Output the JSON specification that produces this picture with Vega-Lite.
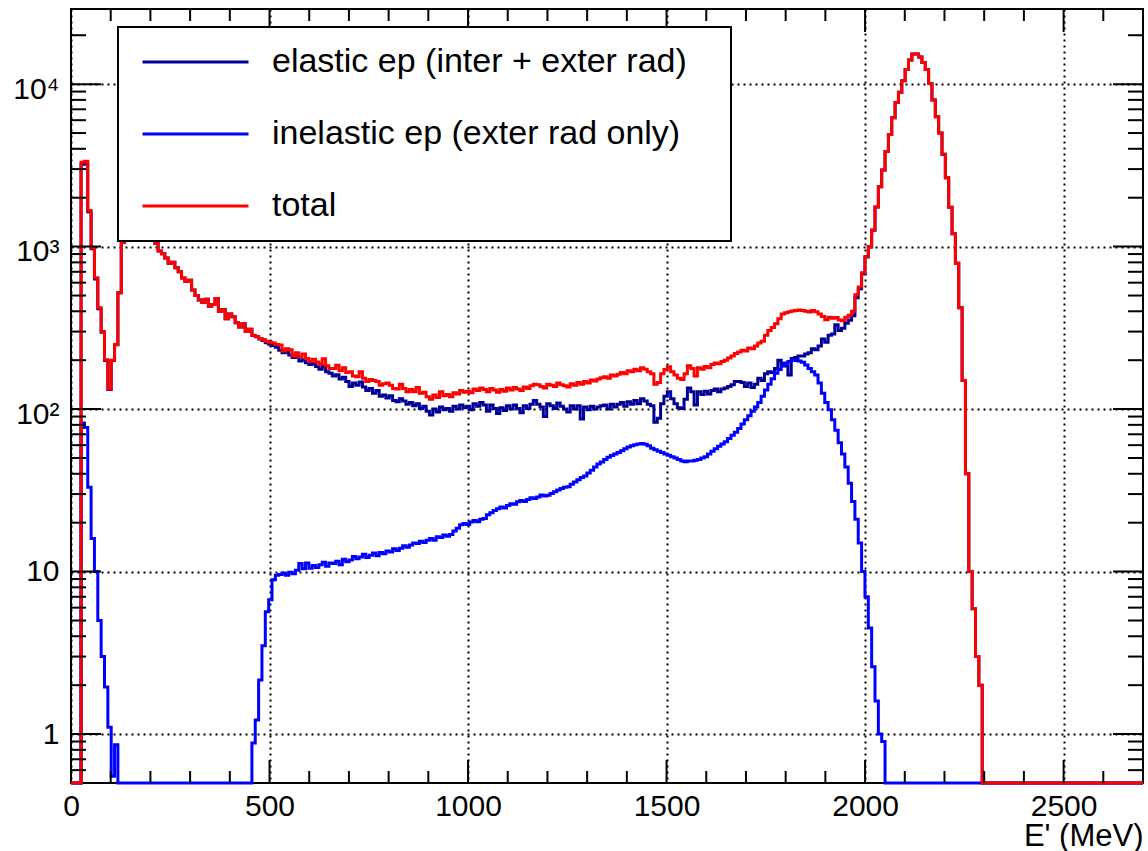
{
"$schema": "https://vega.github.io/schema/vega-lite/v6.json",
"width": 1072, "height": 774,
"autosize": {"type": "none"},
"padding": {"left": 71, "top": 9, "right": 5, "bottom": 68},
"background": "white",
"config": {
  "view": {"stroke": "black", "strokeWidth": 2},
  "font": "Liberation Sans",
  "legend": {"strokeColor": "black", "strokeWidth": 2, "fillColor": "white", "padding": 15}
},
"datasets": {
"xticks": [{"v":100},{"v":200},{"v":300},{"v":400},{"v":500},{"v":600},{"v":700},{"v":800},{"v":900},{"v":1000},{"v":1100},{"v":1200},{"v":1300},{"v":1400},{"v":1500},{"v":1600},{"v":1700},{"v":1800},{"v":1900},{"v":2000},{"v":2100},{"v":2200},{"v":2300},{"v":2400},{"v":2500},{"v":2600}],
"yticks": [{"v":0.6},{"v":0.7},{"v":0.8},{"v":0.9},{"v":1},{"v":2},{"v":3},{"v":4},{"v":5},{"v":6},{"v":7},{"v":8},{"v":9},{"v":10},{"v":20},{"v":30},{"v":40},{"v":50},{"v":60},{"v":70},{"v":80},{"v":90},{"v":100},{"v":200},{"v":300},{"v":400},{"v":500},{"v":600},{"v":700},{"v":800},{"v":900},{"v":1000},{"v":2000},{"v":3000},{"v":4000},{"v":5000},{"v":6000},{"v":7000},{"v":8000},{"v":9000},{"v":10000},{"v":20000}],
"hist": [
{"E":0,"el":0.5,"in":0.5,"tot":0.5},
{"E":8.44,"el":0.5,"in":0.5,"tot":0.5},
{"E":16.88,"el":0.5,"in":0.5,"tot":0.5},
{"E":25.31,"el":3218,"in":82,"tot":3300},
{"E":33.75,"el":3273,"in":77,"tot":3350},
{"E":42.19,"el":1637,"in":33,"tot":1670},
{"E":50.63,"el":969,"in":16,"tot":985},
{"E":59.06,"el":633,"in":10,"tot":643},
{"E":67.5,"el":415,"in":5,"tot":420},
{"E":75.94,"el":297,"in":3,"tot":300},
{"E":84.38,"el":199,"in":1.95,"tot":201},
{"E":92.81,"el":132,"in":1.1,"tot":133},
{"E":101.25,"el":199,"in":0.55,"tot":200},
{"E":109.69,"el":249,"in":0.86,"tot":250},
{"E":118.13,"el":520,"in":0.5,"tot":520},
{"E":126.56,"el":1060,"in":0.5,"tot":1060},
{"E":135,"el":1300,"in":0.5,"tot":1300},
{"E":143.44,"el":1450,"in":0.5,"tot":1450},
{"E":151.88,"el":1550,"in":0.5,"tot":1550},
{"E":160.31,"el":1580,"in":0.5,"tot":1580},
{"E":168.75,"el":1550,"in":0.5,"tot":1550},
{"E":177.19,"el":1480,"in":0.5,"tot":1480},
{"E":185.63,"el":1400,"in":0.5,"tot":1400},
{"E":194.06,"el":1300,"in":0.5,"tot":1300},
{"E":202.5,"el":1180,"in":0.5,"tot":1180},
{"E":210.94,"el":1050,"in":0.5,"tot":1050},
{"E":219.38,"el":940,"in":0.5,"tot":940},
{"E":227.81,"el":905,"in":0.5,"tot":905},
{"E":236.25,"el":850,"in":0.5,"tot":850},
{"E":244.69,"el":790,"in":0.5,"tot":790},
{"E":253.13,"el":800,"in":0.5,"tot":800},
{"E":261.56,"el":740,"in":0.5,"tot":740},
{"E":270,"el":700,"in":0.5,"tot":700},
{"E":278.44,"el":640,"in":0.5,"tot":640},
{"E":286.88,"el":610,"in":0.5,"tot":610},
{"E":295.31,"el":620,"in":0.5,"tot":620},
{"E":303.75,"el":540,"in":0.5,"tot":540},
{"E":312.19,"el":500,"in":0.5,"tot":500},
{"E":320.63,"el":470,"in":0.5,"tot":470},
{"E":329.06,"el":455,"in":0.5,"tot":455},
{"E":337.5,"el":475,"in":0.5,"tot":475},
{"E":345.94,"el":430,"in":0.5,"tot":430},
{"E":354.38,"el":440,"in":0.5,"tot":440},
{"E":362.81,"el":480,"in":0.5,"tot":480},
{"E":371.25,"el":400,"in":0.5,"tot":400},
{"E":379.69,"el":410,"in":0.5,"tot":410},
{"E":388.13,"el":360,"in":0.5,"tot":360},
{"E":396.56,"el":385,"in":0.5,"tot":385},
{"E":405,"el":370,"in":0.5,"tot":370},
{"E":413.44,"el":340,"in":0.5,"tot":340},
{"E":421.88,"el":320,"in":0.5,"tot":320},
{"E":430.31,"el":335,"in":0.5,"tot":335},
{"E":438.75,"el":300,"in":0.5,"tot":300},
{"E":447.19,"el":310,"in":0.5,"tot":310},
{"E":455.63,"el":284,"in":0.88,"tot":285},
{"E":464.06,"el":279,"in":1.22,"tot":280},
{"E":472.5,"el":270,"in":2.15,"tot":272},
{"E":480.94,"el":264,"in":3.5,"tot":268},
{"E":489.38,"el":256,"in":5.66,"tot":262},
{"E":497.81,"el":251,"in":6.7,"tot":258},
{"E":506.25,"el":246,"in":8.9,"tot":255},
{"E":514.69,"el":240,"in":9.5,"tot":250},
{"E":523.13,"el":230,"in":9.6,"tot":248},
{"E":531.56,"el":222,"in":9.8,"tot":228},
{"E":540,"el":225,"in":9.5,"tot":235},
{"E":548.44,"el":215,"in":9.9,"tot":232},
{"E":556.88,"el":208,"in":9.7,"tot":212},
{"E":565.31,"el":211,"in":10.2,"tot":222},
{"E":573.75,"el":198,"in":11.2,"tot":210},
{"E":582.19,"el":201,"in":10.4,"tot":218},
{"E":590.63,"el":193,"in":11.3,"tot":205},
{"E":599.06,"el":188,"in":10.5,"tot":196},
{"E":607.5,"el":191,"in":10.9,"tot":203},
{"E":615.94,"el":183,"in":10.6,"tot":195},
{"E":624.38,"el":176,"in":11.0,"tot":188},
{"E":632.81,"el":184,"in":11.4,"tot":204},
{"E":641.25,"el":170,"in":10.8,"tot":185},
{"E":649.69,"el":166,"in":11.3,"tot":178},
{"E":658.13,"el":160,"in":11.2,"tot":178},
{"E":666.56,"el":163,"in":11.6,"tot":186},
{"E":675,"el":153,"in":11.0,"tot":172},
{"E":683.44,"el":157,"in":11.9,"tot":180},
{"E":691.88,"el":148,"in":11.5,"tot":168},
{"E":700.31,"el":138,"in":11.8,"tot":170},
{"E":708.75,"el":145,"in":12.4,"tot":160},
{"E":717.19,"el":140,"in":12.0,"tot":158},
{"E":725.63,"el":147,"in":12.3,"tot":170},
{"E":734.06,"el":137,"in":12.8,"tot":155},
{"E":742.5,"el":130,"in":12.2,"tot":148},
{"E":750.94,"el":134,"in":12.6,"tot":152},
{"E":759.38,"el":125,"in":13.0,"tot":150},
{"E":767.81,"el":130,"in":12.5,"tot":148},
{"E":776.25,"el":120,"in":13.1,"tot":140},
{"E":784.69,"el":122,"in":12.9,"tot":143},
{"E":793.13,"el":117,"in":13.4,"tot":145},
{"E":801.56,"el":121,"in":13.2,"tot":140},
{"E":810,"el":113,"in":13.8,"tot":134},
{"E":818.44,"el":111,"in":13.5,"tot":133},
{"E":826.88,"el":116,"in":13.9,"tot":142},
{"E":835.31,"el":112,"in":14.4,"tot":134},
{"E":843.75,"el":107,"in":14.1,"tot":128},
{"E":852.19,"el":110,"in":14.6,"tot":132},
{"E":860.63,"el":105,"in":15.0,"tot":128},
{"E":869.06,"el":108,"in":14.9,"tot":136},
{"E":877.5,"el":101,"in":15.4,"tot":125},
{"E":885.94,"el":104,"in":15.1,"tot":127},
{"E":894.38,"el":97,"in":15.6,"tot":119},
{"E":902.81,"el":92,"in":16.0,"tot":115},
{"E":911.25,"el":100,"in":15.6,"tot":122},
{"E":919.69,"el":96,"in":16.4,"tot":118},
{"E":928.13,"el":103,"in":16.2,"tot":128},
{"E":936.56,"el":99,"in":16.8,"tot":121},
{"E":945,"el":101,"in":16.5,"tot":123},
{"E":953.44,"el":97,"in":16.9,"tot":119},
{"E":961.88,"el":104,"in":17.8,"tot":126},
{"E":970.31,"el":100,"in":18.5,"tot":124},
{"E":978.75,"el":106,"in":19.4,"tot":130},
{"E":987.19,"el":102,"in":19.8,"tot":127},
{"E":995.63,"el":104,"in":19.5,"tot":129},
{"E":1004.06,"el":99,"in":20.2,"tot":126},
{"E":1012.5,"el":108,"in":20.6,"tot":133},
{"E":1020.94,"el":104,"in":20.3,"tot":130},
{"E":1029.38,"el":110,"in":21.0,"tot":135},
{"E":1037.81,"el":106,"in":21.2,"tot":132},
{"E":1046.25,"el":97,"in":22.4,"tot":128},
{"E":1054.69,"el":106,"in":23.0,"tot":134},
{"E":1063.13,"el":101,"in":23.8,"tot":131},
{"E":1071.56,"el":94,"in":24.4,"tot":127},
{"E":1080,"el":102,"in":25.0,"tot":132},
{"E":1088.44,"el":98,"in":24.6,"tot":129},
{"E":1096.88,"el":105,"in":25.5,"tot":135},
{"E":1105.31,"el":100,"in":26.2,"tot":131},
{"E":1113.75,"el":106,"in":26.0,"tot":136},
{"E":1122.19,"el":101,"in":26.9,"tot":133},
{"E":1130.63,"el":95,"in":27.4,"tot":130},
{"E":1139.06,"el":105,"in":27.0,"tot":137},
{"E":1147.5,"el":101,"in":27.8,"tot":134},
{"E":1155.94,"el":107,"in":28.5,"tot":139},
{"E":1164.38,"el":113,"in":28.2,"tot":142},
{"E":1172.81,"el":107,"in":28.8,"tot":141},
{"E":1181.25,"el":103,"in":29.6,"tot":138},
{"E":1189.69,"el":90,"in":29.2,"tot":135},
{"E":1198.13,"el":108,"in":29.5,"tot":142},
{"E":1206.56,"el":105,"in":30.2,"tot":140},
{"E":1215,"el":101,"in":31.0,"tot":138},
{"E":1223.44,"el":109,"in":31.8,"tot":145},
{"E":1231.88,"el":104,"in":32.5,"tot":141},
{"E":1240.31,"el":100,"in":33.0,"tot":139},
{"E":1248.75,"el":96,"in":33.3,"tot":137},
{"E":1257.19,"el":105,"in":34.5,"tot":143},
{"E":1265.63,"el":100,"in":35.6,"tot":140},
{"E":1274.06,"el":105,"in":36.8,"tot":146},
{"E":1282.5,"el":87,"in":38.0,"tot":142},
{"E":1290.94,"el":103,"in":38.8,"tot":148},
{"E":1299.38,"el":99,"in":40.5,"tot":145},
{"E":1307.81,"el":104,"in":42.0,"tot":151},
{"E":1316.25,"el":100,"in":44.0,"tot":149},
{"E":1324.69,"el":103,"in":46.0,"tot":153},
{"E":1333.13,"el":105,"in":47.2,"tot":156},
{"E":1341.56,"el":106,"in":49.0,"tot":158},
{"E":1350,"el":100,"in":50.5,"tot":155},
{"E":1358.44,"el":107,"in":51.8,"tot":162},
{"E":1366.88,"el":103,"in":53.0,"tot":160},
{"E":1375.31,"el":107,"in":54.0,"tot":164},
{"E":1383.75,"el":110,"in":55.5,"tot":168},
{"E":1392.19,"el":104,"in":57.0,"tot":165},
{"E":1400.63,"el":111,"in":58.5,"tot":172},
{"E":1409.06,"el":107,"in":59.6,"tot":170},
{"E":1417.5,"el":113,"in":60.4,"tot":176},
{"E":1425.94,"el":108,"in":61.0,"tot":172},
{"E":1434.38,"el":116,"in":61.5,"tot":180},
{"E":1442.81,"el":112,"in":60.8,"tot":176},
{"E":1451.25,"el":107,"in":59.5,"tot":170},
{"E":1459.69,"el":105,"in":57.5,"tot":165},
{"E":1468.13,"el":83,"in":56.2,"tot":142},
{"E":1476.56,"el":88,"in":55.0,"tot":146},
{"E":1485,"el":108,"in":54.0,"tot":165},
{"E":1493.44,"el":120,"in":53.0,"tot":175},
{"E":1501.88,"el":128,"in":52.0,"tot":182},
{"E":1510.31,"el":116,"in":51.0,"tot":170},
{"E":1518.75,"el":108,"in":50.0,"tot":162},
{"E":1527.19,"el":102,"in":49.0,"tot":155},
{"E":1535.63,"el":101,"in":48.0,"tot":152},
{"E":1544.06,"el":115,"in":47.5,"tot":165},
{"E":1552.5,"el":135,"in":48.0,"tot":185},
{"E":1560.94,"el":128,"in":48.0,"tot":178},
{"E":1569.38,"el":106,"in":48.5,"tot":160},
{"E":1577.81,"el":128,"in":49.0,"tot":180},
{"E":1586.25,"el":123,"in":50.0,"tot":176},
{"E":1594.69,"el":129,"in":51.0,"tot":183},
{"E":1603.13,"el":124,"in":53,"tot":180},
{"E":1611.56,"el":130,"in":55,"tot":188},
{"E":1620,"el":133,"in":57,"tot":192},
{"E":1628.44,"el":128,"in":59,"tot":190},
{"E":1636.88,"el":133,"in":61,"tot":196},
{"E":1645.31,"el":135,"in":63,"tot":200},
{"E":1653.75,"el":138,"in":66,"tot":206},
{"E":1662.19,"el":141,"in":69,"tot":212},
{"E":1670.63,"el":148,"in":72,"tot":220},
{"E":1679.06,"el":148,"in":76,"tot":225},
{"E":1687.5,"el":146,"in":81,"tot":230},
{"E":1695.94,"el":138,"in":86,"tot":228},
{"E":1704.38,"el":145,"in":91,"tot":238},
{"E":1712.81,"el":136,"in":97,"tot":235},
{"E":1721.25,"el":142,"in":103,"tot":245},
{"E":1729.69,"el":155,"in":110,"tot":255},
{"E":1738.13,"el":150,"in":120,"tot":262},
{"E":1746.56,"el":165,"in":131,"tot":285},
{"E":1755,"el":170,"in":142,"tot":305},
{"E":1763.44,"el":168,"in":154,"tot":318},
{"E":1771.88,"el":178,"in":166,"tot":335},
{"E":1780.31,"el":200,"in":175,"tot":360},
{"E":1788.75,"el":190,"in":184,"tot":385},
{"E":1797.19,"el":185,"in":192,"tot":392},
{"E":1805.63,"el":162,"in":196,"tot":398},
{"E":1814.06,"el":205,"in":199,"tot":402},
{"E":1822.5,"el":208,"in":200,"tot":405},
{"E":1830.94,"el":212,"in":198,"tot":408},
{"E":1839.38,"el":212,"in":194,"tot":404},
{"E":1847.81,"el":218,"in":187,"tot":400},
{"E":1856.25,"el":222,"in":178,"tot":396},
{"E":1864.69,"el":235,"in":170,"tot":405},
{"E":1873.13,"el":232,"in":162,"tot":398},
{"E":1881.56,"el":245,"in":145,"tot":385},
{"E":1890,"el":270,"in":125,"tot":372},
{"E":1898.44,"el":258,"in":110,"tot":355},
{"E":1906.88,"el":285,"in":99,"tot":368},
{"E":1915.31,"el":290,"in":86,"tot":362},
{"E":1923.75,"el":330,"in":74,"tot":366},
{"E":1932.19,"el":305,"in":62,"tot":354},
{"E":1940.63,"el":315,"in":53,"tot":350},
{"E":1949.06,"el":338,"in":44,"tot":368},
{"E":1957.5,"el":352,"in":35,"tot":378},
{"E":1965.94,"el":375,"in":27,"tot":400},
{"E":1974.38,"el":484,"in":21,"tot":505},
{"E":1982.81,"el":550,"in":15,"tot":565},
{"E":1991.25,"el":680,"in":10,"tot":690},
{"E":1999.69,"el":863,"in":7,"tot":870},
{"E":2008.13,"el":995,"in":4.5,"tot":1000},
{"E":2016.56,"el":1262,"in":2.6,"tot":1265},
{"E":2025,"el":1753,"in":1.6,"tot":1755},
{"E":2033.44,"el":2339,"in":1.0,"tot":2340},
{"E":2041.88,"el":2959,"in":0.9,"tot":2960},
{"E":2050.31,"el":3850,"in":0.5,"tot":3850},
{"E":2058.75,"el":4900,"in":0.5,"tot":4900},
{"E":2067.19,"el":6200,"in":0.5,"tot":6200},
{"E":2075.63,"el":7700,"in":0.5,"tot":7700},
{"E":2084.06,"el":8900,"in":0.5,"tot":8900},
{"E":2092.5,"el":10500,"in":0.5,"tot":10500},
{"E":2100.94,"el":12300,"in":0.5,"tot":12300},
{"E":2109.38,"el":14100,"in":0.5,"tot":14100},
{"E":2117.81,"el":15300,"in":0.5,"tot":15300},
{"E":2126.25,"el":15300,"in":0.5,"tot":15300},
{"E":2134.69,"el":14700,"in":0.5,"tot":14700},
{"E":2143.13,"el":13600,"in":0.5,"tot":13600},
{"E":2151.56,"el":12300,"in":0.5,"tot":12300},
{"E":2160,"el":10100,"in":0.5,"tot":10100},
{"E":2168.44,"el":8000,"in":0.5,"tot":8000},
{"E":2176.88,"el":6300,"in":0.5,"tot":6300},
{"E":2185.31,"el":5000,"in":0.5,"tot":5000},
{"E":2193.75,"el":3700,"in":0.5,"tot":3700},
{"E":2202.19,"el":2650,"in":0.5,"tot":2650},
{"E":2210.63,"el":1750,"in":0.5,"tot":1750},
{"E":2219.06,"el":1200,"in":0.5,"tot":1200},
{"E":2227.5,"el":790,"in":0.5,"tot":790},
{"E":2235.94,"el":420,"in":0.5,"tot":420},
{"E":2244.38,"el":150,"in":0.5,"tot":150},
{"E":2252.81,"el":40,"in":0.5,"tot":40},
{"E":2261.25,"el":10,"in":0.5,"tot":10},
{"E":2269.69,"el":5.9,"in":0.5,"tot":5.9},
{"E":2278.13,"el":3,"in":0.5,"tot":3},
{"E":2286.56,"el":2,"in":0.5,"tot":2},
{"E":2295,"el":0.5,"in":0.5,"tot":0.5},
{"E":2700,"el":0.5,"in":0.5,"tot":0.5}
]},
"layer": [
  {
    "data": {"name": "hist"},
    "transform": [{"fold": ["el", "in", "tot"], "as": ["series", "count"]}, {"filter": "datum.series === 'el'"}],
    "mark": {"type": "line", "interpolate": "step-after", "strokeWidth": 3},
    "encoding": {
      "x": {"field": "E", "type": "quantitative",
        "scale": {"domain": [0, 2700], "nice": false, "zero": false},
        "axis": {"orient": "bottom",
          "values": [0, 500, 1000, 1500, 2000, 2500],
          "format": "d", "domain": false,
          "labelFlush": false, "labelOverlap": false,
          "labelFont": "Liberation Sans", "labelFontSize": 30, "labelColor": "black",
          "labelPadding": 8, "labelBaseline": "top",
          "ticks": false, "tickSize": 0,
          "grid": true, "gridColor": "black", "gridWidth": 2, "gridDash": [2, 4],
          "title": "E' (MeV)", "titleFont": "Liberation Sans", "titleFontSize": 31, "titleFontWeight": "normal",
          "titleColor": "black", "titleAnchor": "end", "titleAlign": "right", "titleBaseline": "alphabetic",
          "titleX": 1072, "titleY": 62}},
      "y": {"field": "count", "type": "quantitative",
        "scale": {"type": "log", "domain": [0.5, 29000], "nice": false},
        "axis": {"orient": "left",
          "values": [1, 10, 100, 1000, 10000], "domain": false,
          "labelExpr": "datum.value === 10000 ? '10⁴' : datum.value === 1000 ? '10³' : datum.value === 100 ? '10²' : datum.value === 10 ? '10' : '1'",
          "labelFlush": false, "labelOverlap": false,
          "labelFont": "Liberation Sans", "labelFontSize": 30, "labelColor": "black",
          "labelPadding": 12,
          "labelOffset": {"condition": {"test": "datum.value >= 100", "value": 5}, "value": 0},
          "ticks": false, "tickSize": 0,
          "grid": true, "gridColor": "black", "gridWidth": 2, "gridDash": [2, 4], "title": null}},
      "color": {"field": "series", "type": "nominal",
        "scale": {"domain": ["el", "in", "tot"], "range": ["#000099", "#0000ff", "#ff0000"]},
        "legend": {"orient": "none", "legendX": 47, "legendY": 18, "title": null,
          "symbolType": "stroke", "symbolSize": 11236, "symbolStrokeWidth": 3, "symbolOffset": 8,
          "labelFont": "Liberation Sans", "labelFontSize": 34, "labelColor": "black", "labelLimit": 2000,
          "labelOffset": 22, "clipHeight": 40, "rowPadding": 32, "padding": 15,
          "strokeColor": "black", "fillColor": "white",
          "labelExpr": "(datum.label === 'el' ? 'elastic ep (inter + exter rad)' : datum.label === 'in' ? 'inelastic ep (exter rad only)' : 'total') + '\u00a0\u00a0\u00a0\u200b'"}}
    }
  },
  {
    "data": {"name": "hist"},
    "transform": [{"fold": ["el", "in", "tot"], "as": ["series", "count"]}, {"filter": "datum.series === 'in'"}],
    "mark": {"type": "line", "interpolate": "step-after", "strokeWidth": 3},
    "encoding": {
      "x": {"field": "E", "type": "quantitative"},
      "y": {"field": "count", "type": "quantitative"},
      "color": {"field": "series", "type": "nominal"}
    }
  },
  {
    "data": {"name": "hist"},
    "transform": [{"fold": ["el", "in", "tot"], "as": ["series", "count"]}, {"filter": "datum.series === 'tot'"}],
    "mark": {"type": "line", "interpolate": "step-after", "strokeWidth": 3},
    "encoding": {
      "x": {"field": "E", "type": "quantitative"},
      "y": {"field": "count", "type": "quantitative"},
      "color": {"field": "series", "type": "nominal"}
    }
  },
  {
    "data": {"name": "xticks"},
    "mark": {"type": "tick", "orient": "vertical", "thickness": 2, "color": "black", "opacity": 1, "clip": true},
    "encoding": {
      "x": {"field": "v", "type": "quantitative"},
      "y": {"datum": 0.5},
      "size": {"condition": {"test": "datum.v % 500 === 0", "value": 46}, "value": 24}
    }
  },
  {
    "data": {"name": "xticks"},
    "mark": {"type": "tick", "orient": "vertical", "thickness": 2, "color": "black", "opacity": 1, "clip": true},
    "encoding": {
      "x": {"field": "v", "type": "quantitative"},
      "y": {"datum": 29000},
      "size": {"condition": {"test": "datum.v % 500 === 0", "value": 46}, "value": 24}
    }
  },
  {
    "data": {"name": "yticks"},
    "mark": {"type": "tick", "orient": "horizontal", "thickness": 2, "color": "black", "opacity": 1, "clip": true},
    "encoding": {
      "y": {"field": "v", "type": "quantitative"},
      "x": {"datum": 0},
      "size": {"condition": {"test": "datum.v === 1 || datum.v === 10 || datum.v === 100 || datum.v === 1000 || datum.v === 10000", "value": 60}, "value": 30}
    }
  },
  {
    "data": {"name": "yticks"},
    "mark": {"type": "tick", "orient": "horizontal", "thickness": 2, "color": "black", "opacity": 1, "clip": true},
    "encoding": {
      "y": {"field": "v", "type": "quantitative"},
      "x": {"datum": 2700},
      "size": {"condition": {"test": "datum.v === 1 || datum.v === 10 || datum.v === 100 || datum.v === 1000 || datum.v === 10000", "value": 60}, "value": 30}
    }
  }
]
}
